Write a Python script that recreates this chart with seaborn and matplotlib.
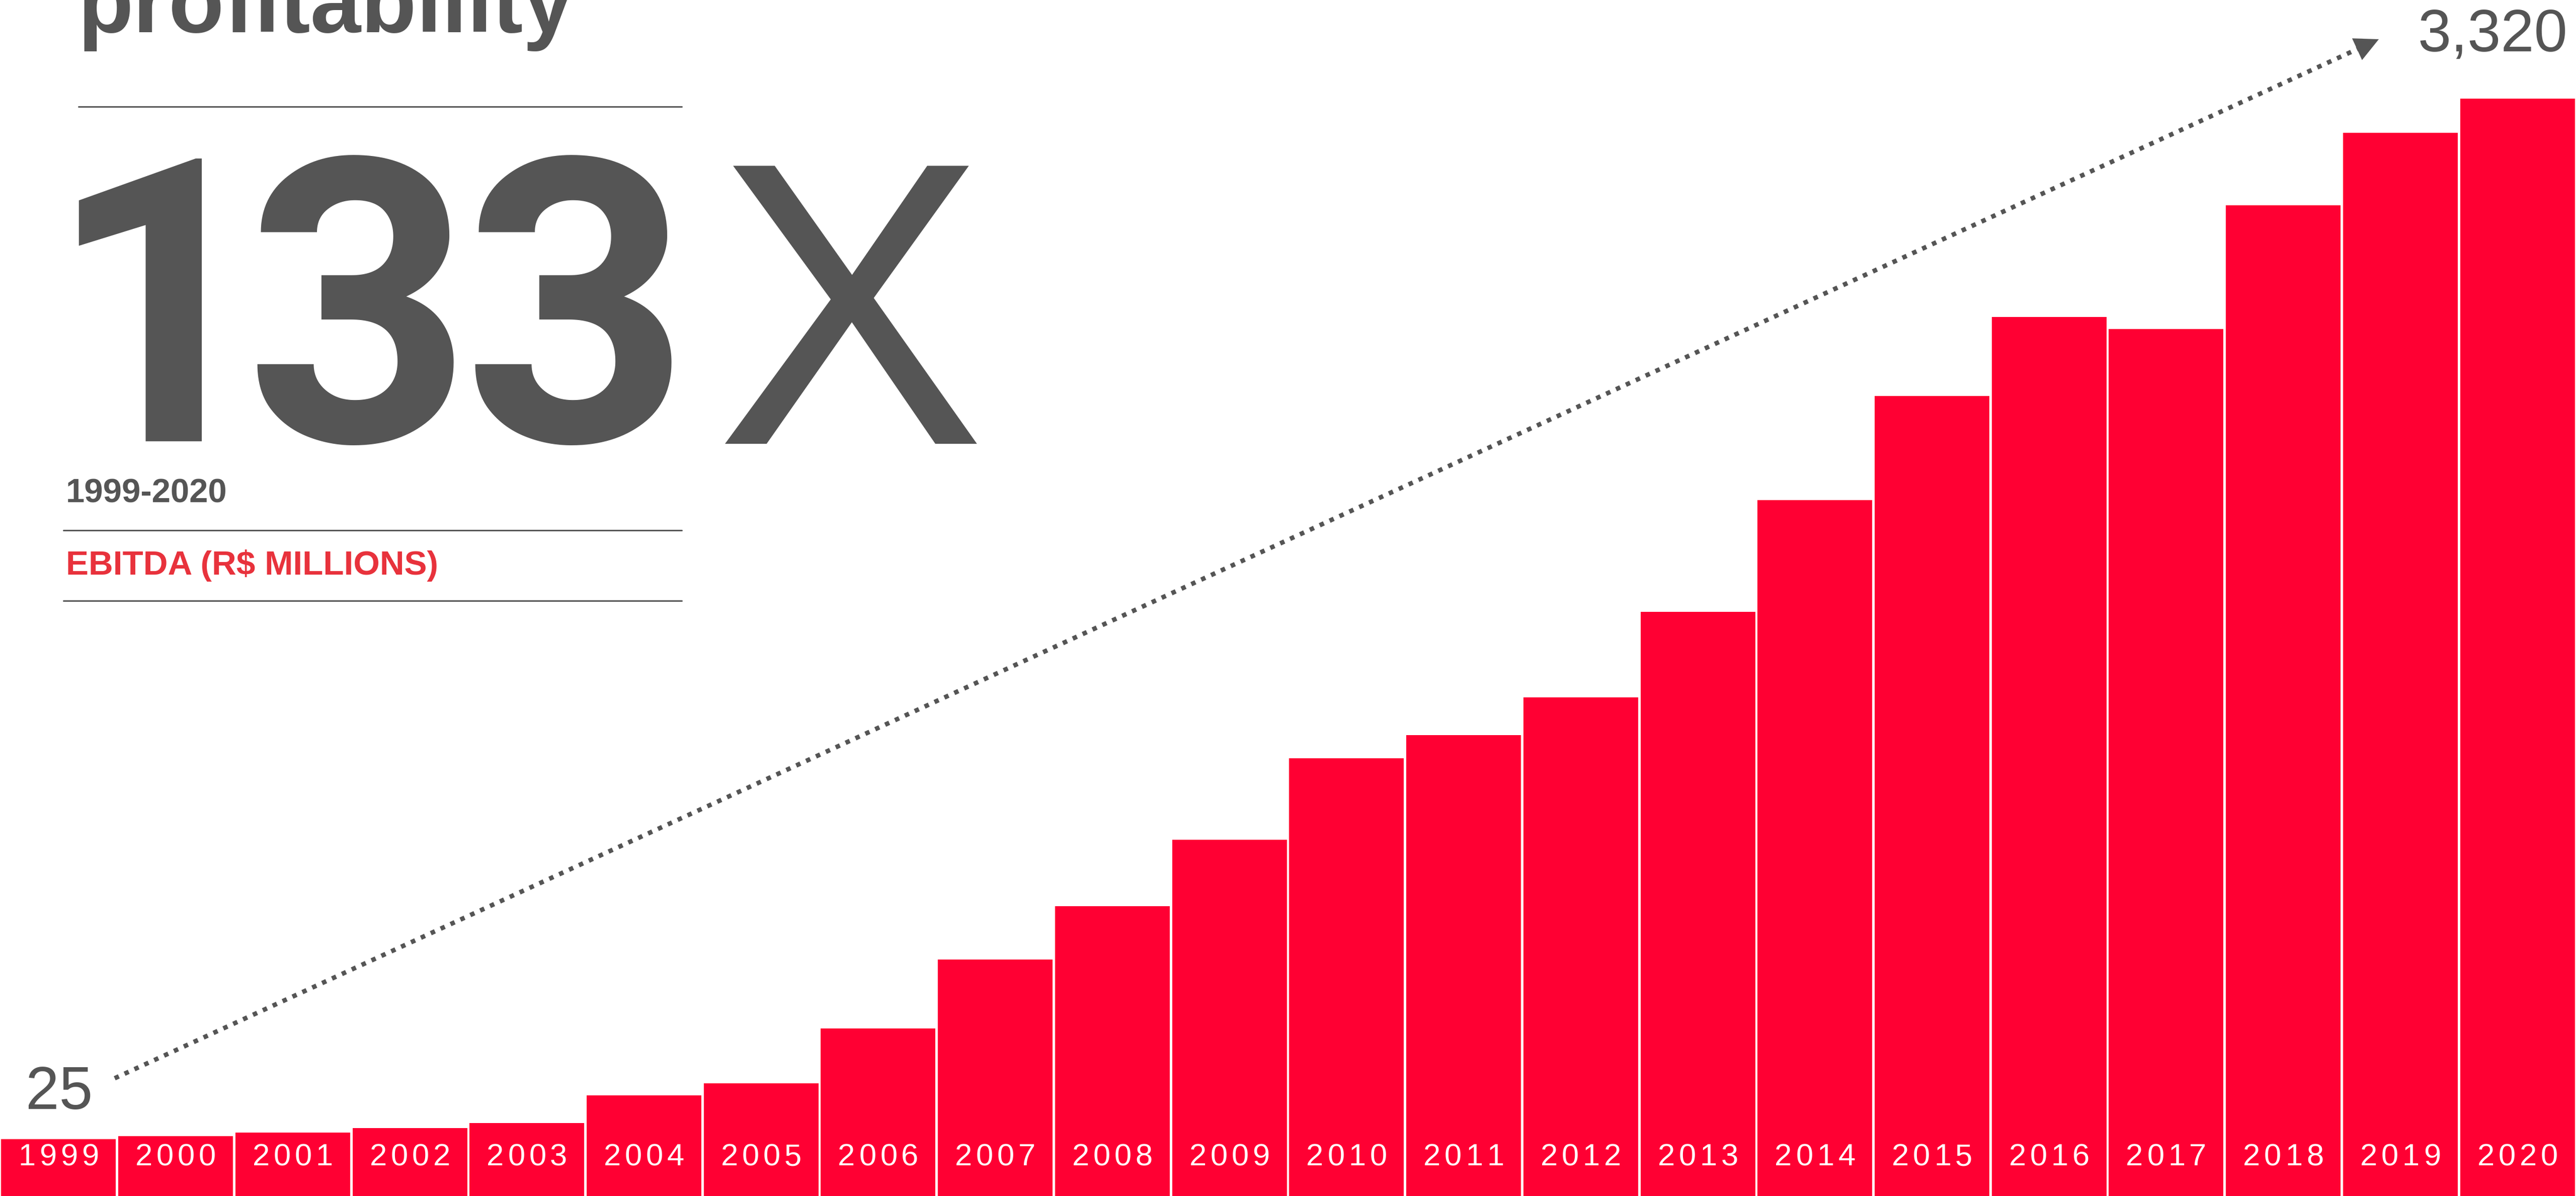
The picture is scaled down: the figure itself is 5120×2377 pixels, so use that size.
import numpy as np
import matplotlib
matplotlib.use("Agg")
import matplotlib.pyplot as plt
from matplotlib.lines import Line2D
import matplotlib.transforms as mtransforms
import seaborn as sns

# EBITDA, R$ millions
years = [str(y) for y in range(1999, 2021)]
ebitda = [25, 35, 46, 60, 76, 164, 202, 376, 594, 763, 973,
          1231, 1304, 1424, 1695, 2049, 2378, 2628, 2590, 2982, 3212, 3320]

RED = "#FF0033"
LABEL_RED = "#E8323C"
GRAY = "#555555"

W, H, DPI = 5120, 2377, 100
PX = 72 / DPI  # points per pixel

sns.set_style("white")
plt.rcParams["font.family"] = ["Liberation Sans", "DejaVu Sans"]

fig = plt.figure(figsize=(W / DPI, H / DPI), dpi=DPI)
ax = fig.add_axes([0, 0, 1, 1])

# vertical scale: strip of label band below zero, value axis above
band = 155          # data units of the label strip below the bars' zero line
ytop = 3632

sns.barplot(x=years, y=ebitda, color=RED, saturation=1, width=0.98,
            errorbar=None, linewidth=0, edgecolor="none", ax=ax)
sns.barplot(x=years, y=np.full(len(years), -band), color=RED, saturation=1,
            width=0.98, errorbar=None, linewidth=0, edgecolor="none", ax=ax)
for p in ax.patches:
    p.set_antialiased(False)

ax.set_xlim(-0.5, len(years) - 0.5)
ax.set_ylim(-band, ytop)
ax.set_axis_off()

# year labels inside the strip, lightly tracked
trans = mtransforms.blended_transform_factory(ax.transData, fig.transFigure)
step = 42  # pixels between character centres
for i, yr in enumerate(years):
    n = len(yr)
    for j, ch in enumerate(yr):
        off = (j - (n - 1) / 2) * step
        ax.annotate(ch, xy=(i, 76 / H), xycoords=trans,
                    xytext=(off, 0), textcoords="offset pixels",
                    ha="center", va="center", color="white",
                    fontsize=61.5 * PX)

def fy(px_from_top):
    return 1 - px_from_top / H

# headline
fig.text(154 / W, fy(64), "profitability", fontsize=181 * PX,
         fontweight="bold", color=GRAY, ha="left", va="baseline")

# big multiple, set digit by digit
big = "133"
big_centres = [318, 713, 1146]
for ch, cx in zip(big, big_centres):
    fig.text(cx / W, fy(877), ch, fontsize=790 * PX, fontweight="bold",
             family=["Roboto", "Liberation Sans"],
             color=GRAY, ha="center", va="baseline")
fig.text(1423 / W, fy(882), "X", fontsize=803 * PX, color=GRAY,
         ha="left", va="baseline")
fig.text(131 / W, fy(998), "1999-2020", fontsize=67 * PX, fontweight="bold",
         color=GRAY, ha="left", va="baseline")
fig.text(131 / W, fy(1142), "EBITDA (R$ MILLIONS)", fontsize=67.5 * PX,
         fontweight="bold", color=LABEL_RED, ha="left", va="baseline")

# rules
for y, x0 in [(212, 156), (1054, 126), (1194, 126)]:
    fig.add_artist(Line2D([x0 / W, 1355 / W], [fy(y), fy(y)],
                          transform=fig.transFigure, color=GRAY, lw=3 * PX))

# endpoint values
fig.text(51 / W, fy(2204), f"{ebitda[0]:,}", fontsize=120 * PX, color=GRAY,
         ha="left", va="baseline")
fig.text(5103 / W, fy(102), f"{ebitda[-1]:,}", fontsize=119 * PX, color=GRAY,
         ha="right", va="baseline")

# dotted growth arrow
start = np.array([228, H - 2143], dtype=float)
tip = np.array([4728, H - 78], dtype=float)
d = (tip - start) / np.linalg.norm(tip - start)
head_len = 34
base = tip - d * head_len
fig.add_artist(Line2D([start[0] / W, base[0] / W], [start[1] / H, base[1] / H],
                      transform=fig.transFigure, color=GRAY, lw=9 * PX,
                      linestyle=(0, (1, 1.4)), dash_capstyle="butt"))
ax.annotate("", xy=tip, xycoords="figure pixels",
            xytext=base - d * 2, textcoords="figure pixels",
            arrowprops=dict(arrowstyle="-|>,head_length=1.7,head_width=0.85",
                            mutation_scale=20, color=GRAY, lw=0.1,
                            shrinkA=0, shrinkB=0))

fig.savefig("out.png", dpi=DPI)
